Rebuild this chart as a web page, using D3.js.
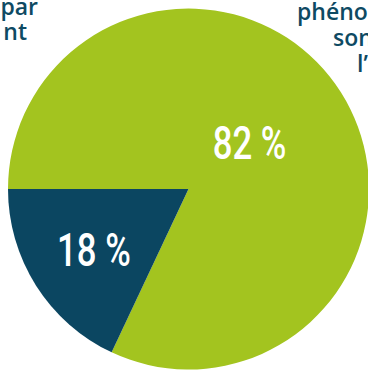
<!DOCTYPE html>
<html>
<head>
<meta charset="utf-8">
<script src="https://cdn.jsdelivr.net/npm/d3@7"></script>
<style>
  html, body { margin: 0; padding: 0; background: #ffffff; overflow: hidden; }
  svg { display: block; }
</style>
</head>
<body>
<svg id="chart" width="368" height="370"></svg>
<script>
// ---- data ----
const categories = ["A", "B"];
const values = [82, 18];
const valueLabels = ["82 %", "18 %"];
const colors = ["#a3c41f", "#0b4661"];
const leftTexts = ["par", "nt"];
const rightTexts = ["phéno", "son", "l’"];

const W = 368, H = 370;
const cx = 188.5, cy = 189, R = 180.5;
const svg = d3.select("#chart");

// dark slice ends at 9 o'clock; green continues clockwise from there
const startAngle = 1.5 * Math.PI;
const pie = d3.pie().sort(null).value(d => d.v)
  .startAngle(startAngle).endAngle(startAngle + 2 * Math.PI);
const data = categories.map((c, i) => ({ c, v: values[i], label: valueLabels[i], color: colors[i] }));
const arcs = pie(data);
const arc = d3.arc().innerRadius(0).outerRadius(R);

const g = svg.append("g").attr("transform", `translate(${cx},${cy})`);
g.selectAll("path").data(arcs).join("path")
  .attr("d", arc)
  .attr("fill", d => d.data.color);

// label placement (radius, angle offset from slice mid-angle)
const labelPos = [{ r: 77, da: -0.09 }, { r: 112, da: 0 }];
const lab = g.selectAll("g.lab").data(arcs).join("g").attr("class", "lab")
  .attr("transform", (d, i) => {
    const a = (d.startAngle + d.endAngle) / 2 + labelPos[i].da;
    const [x, y] = d3.pointRadial(a, labelPos[i].r);
    return `translate(${x},${y}) scale(0.74,1)`;
  });
lab.append("text")
  .attr("text-anchor", "middle")
  .attr("dy", "0.355em")
  .attr("fill", "#ffffff")
  .style("font-family", "Roboto, 'Noto Sans', sans-serif")
  .style("font-weight", 500)
  .style("font-size", "47px")
  .text(d => d.data.label);

// clipped annotation fragments
const tStyle = sel => sel
  .attr("fill", "#0e4a63")
  .style("font-family", "'Open Sans', 'Noto Sans', sans-serif")
  .style("font-weight", 600)
  .style("font-size", "23px");

const leftX = [38, 27], leftY = [15, 40];
svg.selectAll("text.left").data(leftTexts).join("text").attr("class", "left")
  .attr("x", (d, i) => leftX[i]).attr("y", (d, i) => leftY[i])
  .attr("text-anchor", "end")
  .call(tStyle)
  .text(d => d);

const rightX = [297, 333, 357], rightY = [20, 46, 72];
svg.selectAll("text.right").data(rightTexts).join("text").attr("class", "right")
  .attr("x", (d, i) => rightX[i]).attr("y", (d, i) => rightY[i])
  .attr("text-anchor", "start")
  .call(tStyle)
  .text(d => d);
</script>
</body>
</html>
